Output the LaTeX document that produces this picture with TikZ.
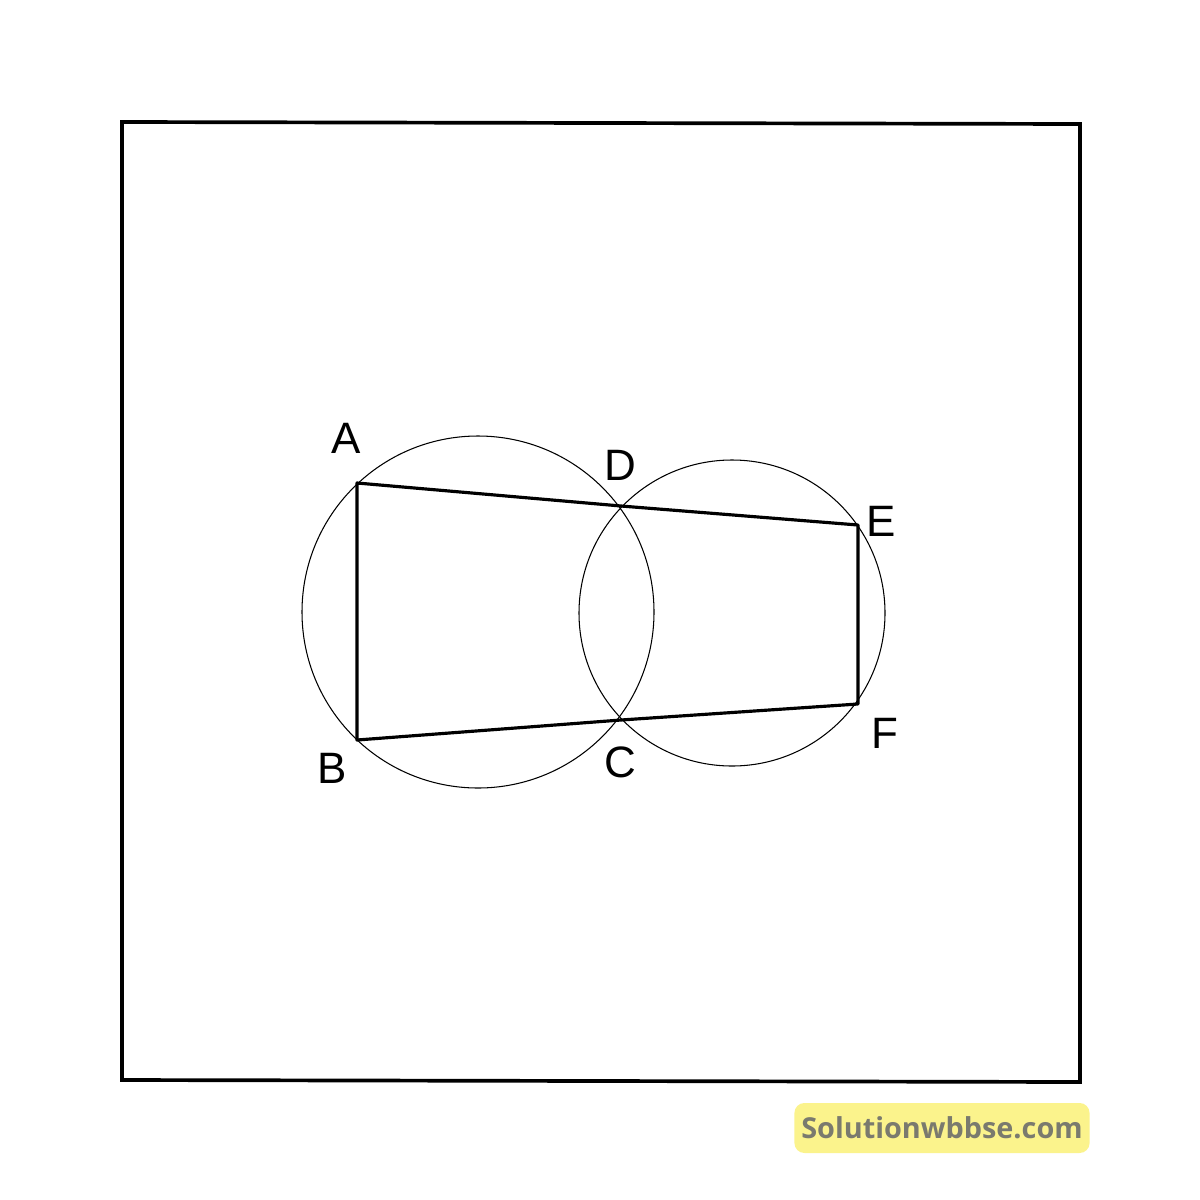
\documentclass[tikz,border=0pt]{standalone}
\usepackage{fontspec}
\setmainfont{Liberation Sans}
\newfontfamily\markfont{Open Sans}
\usepackage{tikz}
\usetikzlibrary{positioning, calc}

\definecolor{markbg}{HTML}{FBF38C}
\definecolor{marktext}{HTML}{7A7A6E}

\begin{document}
\begin{tikzpicture}[
  x=0.01cm, y=-0.01cm,
  frame/.style = {line width=1.05pt},
  side/.style = {line width=0.9pt, line join=round},
  arc/.style = {line width=0.3pt},
  lbl/.style = {font=\fontsize{12.5}{14}\selectfont, inner sep=0pt}
]
\useasboundingbox (0,0) rectangle (1200,1200);

% outer frame
\draw[frame] (122,122) -- (1080,124) -- (1080,1082) -- (122,1080) -- cycle;

% points of the figure
\coordinate (A) at (357,483);
\coordinate (D) at (621,506);
\coordinate (E) at (858,525);
\coordinate (F) at (858,704);
\coordinate (C) at (621,720);
\coordinate (B) at (357,740);

% the two circles
\draw[arc] (478,612) circle[radius=176];
\draw[arc] (732,613) circle[radius=153];

% quadrilateral through the points
\draw[side] (A) -- (D) -- (E) -- (F) -- (C) -- (B) -- cycle;

% labels
\node[lbl] (labA) at (346,438) {A};
\node[lbl] (labD) at (620,465) {D};
\node[lbl] (labE) at (881,521) {E};
\node[lbl] (labF) at (885,733) {F};
\node[lbl] (labC) at (620,762) {C};
\node[lbl] (labB) at (332,768) {B};

% watermark
\node[fill=markbg, rounded corners=0.1cm, minimum width=2.95cm, minimum height=0.5cm,
  text=marktext, font=\markfont\bfseries\fontsize{8.2}{10}\selectfont, inner sep=0pt]
  (mark) at (942,1128) {Solutionwbbse.com};

\end{tikzpicture}
\end{document}
